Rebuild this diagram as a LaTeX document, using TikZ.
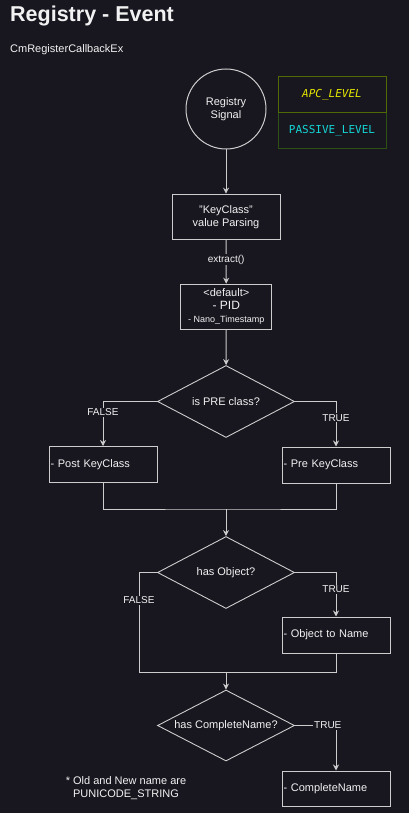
\documentclass[tikz,border=0pt]{standalone}
\usepackage{fontspec}
\setmainfont{Liberation Sans}
\newfontfamily\mymono{DejaVu Sans Mono}
\usetikzlibrary{shapes.geometric,arrows.meta}
\definecolor{bg}{RGB}{24,22,31}
\definecolor{txt}{RGB}{242,242,242}
\definecolor{ln}{RGB}{205,205,205}
\definecolor{olive}{RGB}{80,106,8}
\definecolor{dgreen}{RGB}{45,82,20}
\definecolor{apcyel}{RGB}{226,230,0}
\definecolor{pascyan}{RGB}{20,214,214}
\newcommand{\fsz}[1]{\fontsize{#1}{13}\selectfont}
\tikzset{
  base/.style={text=txt, font=\fsz{11}, inner sep=0pt},
  boxc/.style={base, draw=ln, line width=1pt, align=center},
  boxl/.style={base, draw=ln, line width=1pt, align=left, inner xsep=1.5pt, text width=105pt, minimum height=36pt},
  dia/.style={base, draw=ln, line width=0.9pt, diamond, aspect=1.9, minimum width=137pt, minimum height=72pt},
  conn/.style={draw=ln, line width=1pt},
  arr/.style={conn, -{Stealth[length=6pt,width=6pt]}},
  lbl/.style={base, font=\fsz{10}, fill=bg, inner sep=1pt},
}
\begin{document}
\begin{tikzpicture}[x=1pt,y=-1pt]
\fill[bg] (0,0) rectangle (409,813);
\useasboundingbox (0,0) rectangle (409,813);
% titles
\node[base, anchor=base west, font=\fontsize{21.5}{24}\selectfont\bfseries] (title) at (10,22) {Registry - Event};
\node[base, anchor=base west] (sub) at (10,53) {CmRegisterCallbackEx};
% level legend
\node[base, draw=dgreen, line width=1pt, minimum width=108pt, minimum height=36pt, font=\mymono\fontsize{11}{13}\selectfont, text=pascyan] (pas) at (332,131) {PASSIVE\_LEVEL};
\node[base, draw=olive, line width=1pt, minimum width=108pt, minimum height=36pt, font=\mymono\itshape\fontsize{11}{13}\selectfont, text=apcyel] (apc) at (332,95) {APC\_LEVEL};
% main flow
\node[boxc, circle, minimum size=80pt] (sig) at (226,109) {Registry\\Signal};
\node[boxc, minimum width=108pt, minimum height=45pt] (kc) at (226,216.7) {"KeyClass"\\value Parsing};
\node[boxc, minimum width=91pt, minimum height=45pt] (def) at (226.3,306.7) {<default>\\{\fsz{12}- PID}\\{\fsz{9}- Nano\_Timestamp}};
\node[dia] (d1) at (226,401.5) {is PRE class?};
\node[boxl] (post) at (103,464.5) {- Post KeyClass};
\node[boxl] (pre) at (336,465) {- Pre KeyClass};
\coordinate (m1) at (226,509);
\node[dia] (d2) at (226,572.5) {has Object?};
\node[boxl] (obj) at (336,635) {- Object to Name};
\coordinate (m2l) at (139,672);
\coordinate (m2) at (226,672);
\node[dia, minimum height=71pt] (d3) at (226,725.5) {has CompleteName?};
\node[boxl, minimum height=35pt] (cn) at (336,788.5) {- CompleteName};
\node[base, align=center] (note) at (126,788) {* Old and New name are\\PUNICODE\_STRING};
% connectors
\draw[arr] (sig) -- (kc);
\draw[arr] (kc) -- node[lbl, pos=0.45] (ext) {extract()} (def);
\draw[arr] (def) -- (d1);
\draw[arr] (d1.west) -| node[lbl, pos=0.62] (f1) {FALSE} (post.north);
\draw[arr] (d1.east) -| node[lbl, pos=0.68] (t1) {TRUE} (pre.north);
\draw[conn] (post.south) |- (m1) -| (pre.south);
\draw[arr] (m1) -- (d2);
\draw[conn] (d2.west) -| node[lbl, pos=0.64] (f2) {FALSE} (m2l) -| (obj.south);
\draw[arr] (d2.east) -| node[lbl, pos=0.69] (t2) {TRUE} (obj.north);
\draw[arr] (m2) -- (d3);
\draw[arr] (d3.east) -| node[lbl, pos=0.4] (t3) {TRUE} (cn.north);
\end{tikzpicture}
\end{document}
